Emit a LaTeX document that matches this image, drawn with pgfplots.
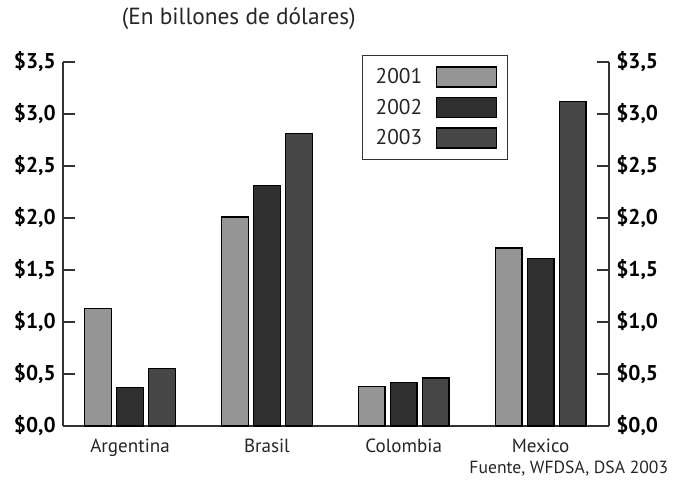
\documentclass[border=0pt]{standalone}
\usepackage{fontspec}
\setmainfont{PT Sans}
\usepackage{pgfplots}
\pgfplotsset{compat=1.18}
\definecolor{c1}{HTML}{959595}
\definecolor{c2}{HTML}{2F2F2F}
\definecolor{c3}{HTML}{474747}
\definecolor{axc}{HTML}{333333}
\pgfplotsset{myleg/.style={legend image code/.code={\draw[##1,line width=1.2pt] (0pt,-7.5pt) rectangle (45pt,7.5pt);}}}
\begin{document}
\begin{tikzpicture}
\useasboundingbox (-47.25pt,-41.25pt) rectangle (459.75pt,319.5pt);
\begin{axis}[
  at={(0,0)}, anchor=south west,
  scale only axis, width=409.5pt, height=273pt,
  xmin=-0.49, xmax=3.5, ymin=0, ymax=3.5,
  clip=false,
  axis x line*=bottom, axis y line*=left,
  axis line style={axc, line width=1.5pt, -},
  ybar=4pt, bar width=20pt,
  xtick={0,1,2,3}, xticklabels={Argentina,Brasil,Colombia,Mexico},
  x tick label style={font=\fontsize{14.3}{16}\selectfont, text=black!85, yshift=-6pt},
  xtick style={draw=none},
  major tick length=9pt, tick align=inside,
  ytick={0,0.5,1,1.5,2,2.5,3,3.5},
  yticklabels={{\$0,0},{\$0,5},{\$1,0},{\$1,5},{\$2,0},{\$2,5},{\$3,0},{\$3,5}},
  y tick label style={font=\bfseries\fontsize{16}{18}\selectfont, xshift=-2pt},
  ytick style={axc, line width=1.5pt},
  legend plot pos=right,
  legend cell align=left,
  legend style={at={(0.547,1.019)}, anchor=north west, draw=axc, line width=1pt,
    font=\fontsize{16}{18}\selectfont, text=black!85, inner xsep=8pt, inner ysep=7.5pt, row sep=6pt, column sep=8pt},
]
\addplot[fill=c1, draw=black, line width=1pt, myleg] coordinates {(0,1.13) (1,2.01) (2,0.38) (3,1.71)};
\addplot[fill=c2, draw=black, line width=1pt, myleg] coordinates {(0,0.37) (1,2.31) (2,0.42) (3,1.61)};
\addplot[fill=c3, draw=black, line width=1pt, myleg] coordinates {(0,0.55) (1,2.81) (2,0.46) (3,3.12)};
\legend{2001,2002,2003}
\node[font=\fontsize{17.5}{19}\selectfont, text=black!85] at (rel axis cs:0.322,1.119) {(En billones de dólares)};
\node[font=\fontsize{13.2}{15}\selectfont, text=black!85, anchor=east] at (rel axis cs:1.117,-0.116) {Fuente, WFDSA, DSA 2003};
\end{axis}
\begin{axis}[
  at={(0,0)}, anchor=south west,
  scale only axis, width=409.5pt, height=273pt,
  xmin=-0.49, xmax=3.5, ymin=0, ymax=3.5,
  axis y line*=right, axis x line=none,
  axis line style={axc, line width=1.5pt, -},
  major tick length=9pt, tick align=inside,
  ytick={0,0.5,1,1.5,2,2.5,3,3.5},
  yticklabels={{\$0,0},{\$0,5},{\$1,0},{\$1,5},{\$2,0},{\$2,5},{\$3,0},{\$3,5}},
  y tick label style={font=\bfseries\fontsize{16}{18}\selectfont, xshift=2pt},
  ytick style={axc, line width=1.5pt},
]
\end{axis}
\end{tikzpicture}
\end{document}
